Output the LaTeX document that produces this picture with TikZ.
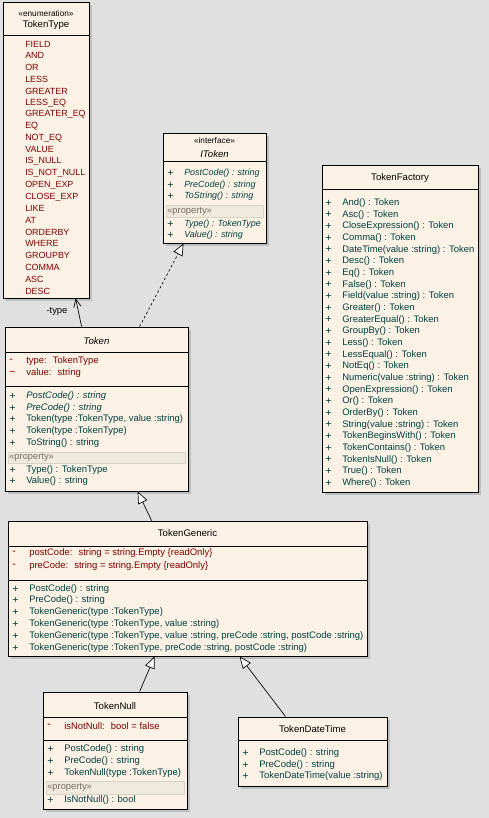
\documentclass[tikz,border=0pt]{standalone}
\usepackage{fontspec}
\setsansfont{Liberation Sans}
\usepackage{tikz}
\usetikzlibrary{arrows.meta,calc,fit}
\usepackage{xcolor}
\definecolor{canvas}{RGB}{224,224,224}
\definecolor{paper}{RGB}{251,242,229}
\definecolor{shade}{RGB}{190,190,190}
\definecolor{fieldred}{RGB}{128,0,0}
\definecolor{opteal}{RGB}{0,64,64}
\definecolor{bandfill}{RGB}{240,233,221}
\definecolor{bandtext}{RGB}{118,108,98}
\tikzset{
  % ---- class boxes ------------------------------------------------------
  cls/.style={draw=black, line width=0.6pt, fill=paper, inner sep=0pt},
  shadow/.style={fill=shade},
  sep/.style={draw=black, line width=0.5pt},
  band/.style={fill=bandfill, draw=bandfill!90!black, line width=0.3pt},
  % ---- texts ------------------------------------------------------------
  ttl/.style={font=\sffamily\fontsize{7.2}{8}\selectfont, text=black, inner sep=0pt},
  ster/.style={font=\sffamily\fontsize{6.2}{7}\selectfont, text=black, inner sep=0pt},
  fld/.style={font=\sffamily\fontsize{7.1}{8}\selectfont, text=fieldred,
              inner sep=0pt, anchor=west},
  lit/.style={fld, font=\sffamily\fontsize{6.7}{8}\selectfont},
  op/.style={font=\sffamily\fontsize{7.1}{8}\selectfont, text=opteal,
             inner sep=0pt, anchor=west},
  opi/.style={op, font=\sffamily\itshape\fontsize{7.1}{8}\selectfont},
  opis/.style={op, font=\sffamily\itshape\fontsize{6.7}{8}\selectfont},
  sgn/.style={font=\sffamily\fontsize{8}{8}\selectfont},
  prop/.style={font=\sffamily\fontsize{7}{8}\selectfont, text=bandtext,
               inner sep=0pt, anchor=west},
  lbl/.style={font=\sffamily\fontsize{7}{8}\selectfont, text=black, inner sep=0pt},
  % ---- connectors -------------------------------------------------------
  gen/.style={-{Triangle[open, fill=white, length=9pt, width=7.5pt]}, line width=0.5pt},
  real/.style={gen, dash pattern=on 1.8pt off 1.8pt},
  assoc/.style={-{Straight Barb[length=6pt, width=5.5pt]}, line width=0.5pt},
}

\begin{document}
\begin{tikzpicture}[x=0.75pt,y=-0.75pt]

% box with its shadow: name, x1, y1, x2, y2
\newcommand{\umlbox}[5]{%
  \fill[shadow] (#2+3,#3+3) rectangle (#4+3,#5+3);
  \node[cls, fit={(#2,#3) (#4,#5)}] (#1) {};}
% member row: id, left x, y, sign, text, style
\newcommand{\mem}[6]{%
  \node[#6, sgn] (#1-s) at (#2+4,#3) {#4};
  \node[#6] (#1) at (#2+21,#3) {#5};}
% property band: x1, x2, y1, y2, id
\newcommand{\propband}[5]{%
  \draw[band] (#1+3,#3) rectangle (#2-3,#4);
  \node[prop] (#5) at (#1+4,{(#3+#4)/2}) {«property»};}

\fill[canvas] (0,0) rectangle (489,818);

% ---- TokenType --------------------------------------------------------------
\umlbox{tokentype}{3}{2}{89}{298}
\node[ster] (tt-st) at (46,14) {«enumeration»};
\node[ttl] (tt-name) at (46,25) {TokenType};
\draw[sep] (3,35) -- (89,35);
\foreach \lt [count=\k from 0] in {FIELD, AND, OR, LESS, GREATER, LESS\_EQ,
    GREATER\_EQ, EQ, NOT\_EQ, VALUE, IS\_NULL, IS\_NOT\_NULL, OPEN\_EXP,
    CLOSE\_EXP, LIKE, AT, ORDERBY, WHERE, GROUPBY, COMMA, ASC, DESC}
  \node[lit] (tt\k) at (25,{44+11.76*\k}) {\lt};

% ---- IToken -----------------------------------------------------------------
\umlbox{itoken}{163}{133}{266}{243}
\node[ster] (it-st) at (214.5,141) {«interface»};
\node[ttl, font=\sffamily\itshape\fontsize{7.2}{8}\selectfont] (it-name) at (214.5,154) {IToken};
\draw[sep] (163,161) -- (266,161);
\mem{it1}{163}{173}{+}{PostCode() : string}{opis}
\mem{it2}{163}{185}{+}{PreCode() : string}{opis}
\mem{it3}{163}{196}{+}{ToString() : string}{opis}
\propband{163}{266}{205}{217}{it-pr}
\mem{it4}{163}{224}{+}{Type() : TokenType}{opis}
\mem{it5}{163}{235}{+}{Value() : string}{opis}

% ---- TokenFactory -----------------------------------------------------------
\umlbox{tokenfactory}{322}{165}{478}{492}
\node[ttl] (tf-name) at (400,178) {TokenFactory};
\draw[sep] (322,189) -- (478,189);
\foreach \m [count=\k from 0] in {And() : Token, Asc() : Token,
    CloseExpression() : Token, Comma() : Token, DateTime(value :string) : Token,
    Desc() : Token, Eq() : Token, False() : Token, Field(value :string) : Token,
    Greater() : Token, GreaterEqual() : Token, GroupBy() : Token, Less() : Token,
    LessEqual() : Token, NotEq() : Token, Numeric(value :string) : Token,
    OpenExpression() : Token, Or() : Token, OrderBy() : Token,
    String(value :string) : Token, TokenBeginsWith() : Token,
    TokenContains() : Token, TokenIsNull() : Token, True() : Token, Where() : Token}
  {\mem{tf\k}{321}{203+11.67*\k}{+}{\m}{op}}

% ---- Token ------------------------------------------------------------------
\umlbox{token}{5}{327}{188}{491}
\node[ttl, font=\sffamily\itshape\fontsize{7.2}{8}\selectfont] (tk-name) at (96.5,341) {Token};
\draw[sep] (5,352) -- (188,352);
\mem{tk1}{5}{361}{-}{type:~ TokenType}{fld}
\mem{tk2}{5}{373}{\textasciitilde}{value:~ string}{fld}
\draw[sep] (5,386) -- (188,386);
\mem{tk3}{5}{396}{+}{PostCode() : string}{opi}
\mem{tk4}{5}{408}{+}{PreCode() : string}{opi}
\mem{tk5}{5}{419}{+}{Token(type :TokenType, value :string)}{op}
\mem{tk6}{5}{431}{+}{Token(type :TokenType)}{op}
\mem{tk7}{5}{443}{+}{ToString() : string}{op}
\propband{5}{188}{452}{463}{tk-pr}
\mem{tk8}{5}{470}{+}{Type() : TokenType}{op}
\mem{tk9}{5}{481}{+}{Value() : string}{op}

% ---- TokenGeneric -----------------------------------------------------------
\umlbox{tokengeneric}{8}{521}{367}{656}
\node[ttl] (tg-name) at (187.5,533) {TokenGeneric};
\draw[sep] (8,546) -- (367,546);
\mem{tg1}{8}{553}{-}{postCode:~ string = string.Empty \{readOnly\}}{fld}
\mem{tg2}{8}{566}{-}{preCode:~ string = string.Empty \{readOnly\}}{fld}
\draw[sep] (8,580) -- (367,580);
\mem{tg3}{8}{589}{+}{PostCode() : string}{op}
\mem{tg4}{8}{600}{+}{PreCode() : string}{op}
\mem{tg5}{8}{612}{+}{TokenGeneric(type :TokenType)}{op}
\mem{tg6}{8}{624}{+}{TokenGeneric(type :TokenType, value :string)}{op}
\mem{tg7}{8}{636}{+}{TokenGeneric(type :TokenType, value :string, preCode :string, postCode :string)}{op}
\mem{tg8}{8}{648}{+}{TokenGeneric(type :TokenType, preCode :string, postCode :string)}{op}

% ---- TokenNull --------------------------------------------------------------
\umlbox{tokennull}{43}{692}{187}{809}
\node[ttl] (tn-name) at (115,706) {TokenNull};
\draw[sep] (43,717) -- (187,717);
\mem{tn1}{43}{726}{-}{isNotNull:~ bool = false}{fld}
\draw[sep] (43,740) -- (187,740);
\mem{tn2}{43}{749}{+}{PostCode() : string}{op}
\mem{tn3}{43}{761}{+}{PreCode() : string}{op}
\mem{tn4}{43}{773}{+}{TokenNull(type :TokenType)}{op}
\propband{43}{187}{781}{794}{tn-pr}
\mem{tn5}{43}{800}{+}{IsNotNull() : bool}{op}

% ---- TokenDateTime ----------------------------------------------------------
\umlbox{tokendatetime}{238}{717}{387}{786}
\node[ttl] (td-name) at (312.5,729) {TokenDateTime};
\draw[sep] (238,740) -- (387,740);
\mem{td1}{238}{753}{+}{PostCode() : string}{op}
\mem{td2}{238}{765}{+}{PreCode() : string}{op}
\mem{td3}{238}{776}{+}{TokenDateTime(value :string)}{op}

% ---- relations --------------------------------------------------------------
\draw[assoc] ($(token.north west)+(77,0)$) -- ($(tokentype.south west)+(73,0)$);
\node[lbl] (typelbl) at (57,311) {-type};
\draw[real] ($(token.north west)+(135,0)$) -- ($(itoken.south west)+(21,0)$);
\draw[gen] ($(tokengeneric.north west)+(144,0)$) -- ($(token.south west)+(133,0)$);
\draw[gen] ($(tokennull.north west)+(97,0)$) -- ($(tokengeneric.south west)+(147,0)$);
\draw[gen] ($(tokendatetime.north west)+(48,0)$) -- ($(tokengeneric.south west)+(232,0)$);

\end{tikzpicture}
\end{document}
